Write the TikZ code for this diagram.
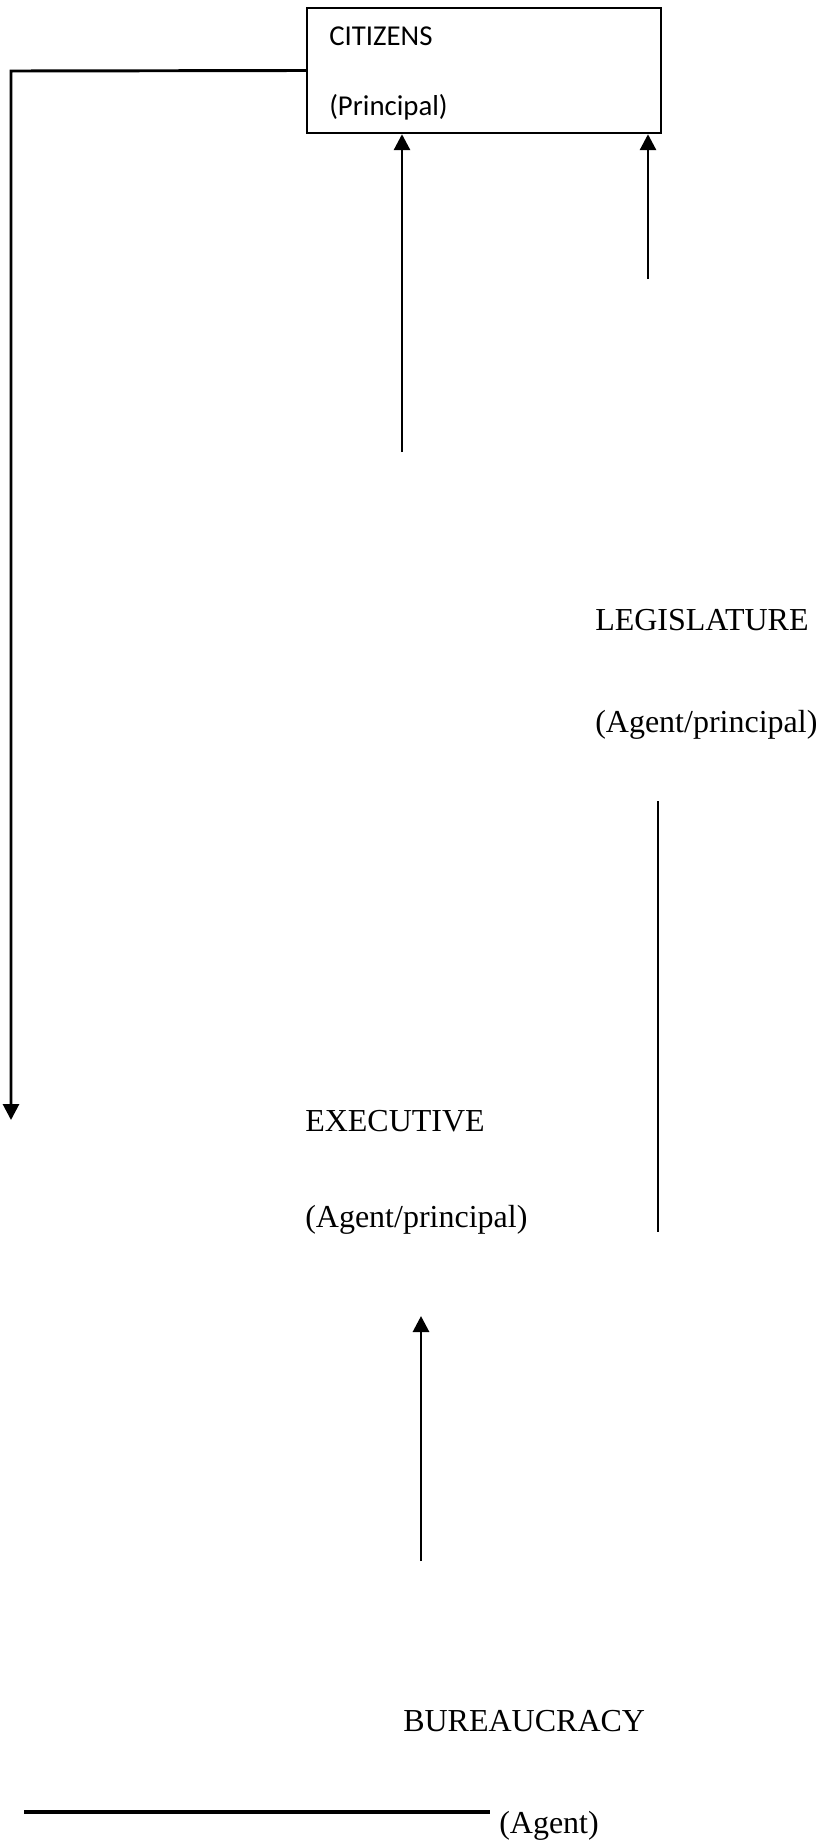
\documentclass[tikz,border=0pt]{standalone}
\usepackage{fontspec}
\setmainfont{Liberation Serif}
\newfontfamily\calibrifont{Carlito}
\usetikzlibrary{arrows.meta}
\begin{document}
\begin{tikzpicture}[x=0.75pt,y=-0.75pt,
  lbl/.style={anchor=base west, inner sep=0pt, font=\fontsize{24}{28}\selectfont},
  clbl/.style={anchor=base west, inner sep=0pt, font=\calibrifont\fontsize{21.6}{25}\selectfont},
  boxstyle/.style={draw, line width=1.8pt, rectangle, inner sep=0pt, minimum width=265.5pt, minimum height=93.75pt},
  link/.style={line width=2.2pt},
  arr/.style={link, -{Triangle[width=12pt,length=12pt]}},
  thickline/.style={line width=2.4pt}]
\useasboundingbox (0,0) rectangle (822,1845);
% principal box
\node[boxstyle] (cit) at (484,70.5) {};
\node[clbl] (citname) at (329,45) {CITIZENS};
\node[clbl] (citrole) at (329,115) {(Principal)};
% labels
\node[lbl] (leg) at (595,630) {LEGISLATURE};
\node[lbl] (legrole) at (595,732) {(Agent/principal)};
\node[lbl] (exe) at (305,1131) {EXECUTIVE};
\node[lbl] (exerole) at (305,1227) {(Agent/principal)};
\node[lbl] (bur) at (403,1731) {BUREAUCRACY};
\node[lbl] (burrole) at (499,1833) {(Agent)};
% coordinates for free ends
\coordinate (a1) at (402,452);
\coordinate (a2) at (648,279);
\coordinate (lc) at (11,71);
\coordinate (ld) at (11,1120);
\coordinate (r1) at (658,801);
\coordinate (r2) at (658,1232);
\coordinate (e1) at (421,1561);
\coordinate (e2) at (421,1316);
\coordinate (b1) at (24,1812);
\coordinate (b2) at (490,1812);
% connectors
\draw[arr] (a1) -- (a1 |- cit.south);
\draw[arr] (a2) -- (a2 |- cit.south);
\draw[arr] (cit.west) -- (lc) -- (ld);
\draw[link] (r1) -- (r2);
\draw[arr] (e1) -- (e2);
\draw[thickline] (b1) -- (b2);
\end{tikzpicture}
\end{document}
